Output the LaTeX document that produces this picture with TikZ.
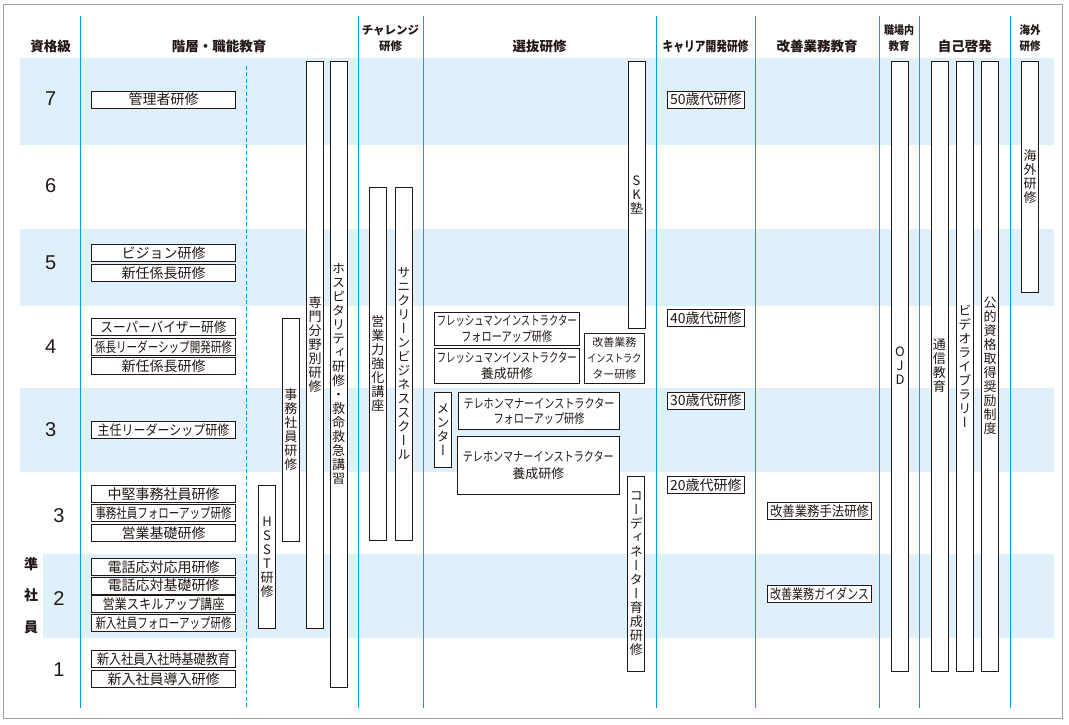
\documentclass[tikz,border=0pt]{standalone}
\usepackage{fontspec}
\usepackage{graphicx}
\setmainfont{Noto Sans CJK JP}
\newfontfamily\tatefont[RawFeature=+vert]{Noto Sans CJK JP}
\newfontfamily\numfont{Liberation Sans}
\newcommand{\hsq}[2]{\resizebox{#1pt}{\height}{#2}}
\definecolor{ink}{RGB}{35,24,21}
\definecolor{rule}{RGB}{0,160,233}
\definecolor{band}{RGB}{222,240,250}
\definecolor{frame}{RGB}{159,160,160}

\begin{document}
\begin{tikzpicture}[x=1pt,y=-1pt,
    every node/.style={text=ink},
    box/.style={draw=ink,fill=white,line width=0.8pt,inner sep=0pt,align=center,
                font=\fontsize{13}{15.5}\selectfont},
    lbox/.style={box,minimum width=144pt,minimum height=17pt,font=\fontsize{14}{15}\selectfont},
    abox/.style={box,minimum width=77pt,minimum height=17pt,font=\fontsize{14}{15}\selectfont},
    kbox/.style={box,minimum width=104pt,minimum height=17pt,font=\fontsize{14}{15}\selectfont},
    vbox/.style={box,minimum width=17pt,font=\tatefont\fontsize{13}{14}\selectfont},
    head/.style={font=\bfseries\fontsize{13.5}{16}\selectfont,align=center},
    shead/.style={font=\bfseries\fontsize{11.5}{16.2}\selectfont,align=center},
    grade/.style={font=\numfont\fontsize{20}{20}\selectfont}]

  \useasboundingbox (0,0) rectangle (1069,725);
  \fill[white] (0,0) rectangle (1069,725);
  \draw[frame,line width=1.2pt] (3.4,4.5) rectangle (1062.3,718.3);

  % grade bands
  \fill[band] (20,57.9) rectangle (1054,144.6);
  \fill[band] (20,229) rectangle (1054,305.8);
  \fill[band] (20,388.2) rectangle (1054,471.7);
  \fill[band] (43.3,554.2) rectangle (1054,637.7);

  \foreach \x in {80.2,358.2,423.2,656.4,755.4,879.3,919.4,1010.2}
    \draw[rule,line width=1.1pt] (\x,16.5) -- (\x,707.7);
  \draw[rule,line width=1pt,dash pattern=on 4pt off 2.5pt] (246.5,66) -- (246.5,707.7);

  % headers
  \node[head]  (H1) at (50.6,46)   {資格級};
  \node[head]  (H2) at (219,46)    {階層・職能教育};
  \node[shead] (H3) at (390.5,38.4) {チャレンジ\\研修};
  \node[head]  (H4) at (539.5,46)  {選抜研修};
  \node[head]  (H5) at (705.5,46)  {\hsq{86}{キャリア開発研修}};
  \node[head]  (H6) at (817,46)    {改善業務教育};
  \node[shead] (H7) at (899,38.4)  {\hsq{30}{職場内}\\\hsq{21}{教育}};
  \node[head]  (H8) at (964.8,46)  {自己啓発};
  \node[shead] (H9) at (1030,38.4) {\hsq{21}{海外}\\\hsq{21}{研修}};

  % grades
  \node[grade] (G7) at (50.6,98.8) {7};
  \node[grade] (G6) at (50.6,186)  {6};
  \node[grade] (G5) at (50.6,262.7) {5};
  \node[grade] (G4) at (50.6,346.7) {4};
  \node[grade] (G3) at (50.6,430)  {3};
  \node[grade] (J3) at (59,515.7)  {3};
  \node[grade] (J2) at (59,598.3)  {2};
  \node[grade] (J1) at (59,670)    {1};
  \node[font=\bfseries\fontsize{14}{31.5}\selectfont,align=center] (JSI) at (31,595.5) {準\\社\\員};

  % layer / function
  \node[lbox] (KNR)  at (163.5,99.5)  {管理者研修};
  \node[lbox] (VIS)  at (163.5,253.3) {ビジョン研修};
  \node[lbox] (SNK5) at (163.5,272.8) {新任係長研修};
  \node[lbox] (SPV)  at (163.5,327)   {\hsq{126}{スーパーバイザー研修}};
  \node[lbox] (KLD)  at (163.5,346.7) {\hsq{137}{係長リーダーシップ開発研修}};
  \node[lbox] (SNK4) at (163.5,365.8) {新任係長研修};
  \node[lbox] (SLD)  at (163.5,430)   {\hsq{132}{主任リーダーシップ研修}};
  \node[lbox] (CJM)  at (163.5,493.8) {中堅事務社員研修};
  \node[lbox] (JFU)  at (163.5,513.3) {\hsq{136}{事務社員フォローアップ研修}};
  \node[lbox] (EKS)  at (163.5,533.3) {営業基礎研修};
  \node[lbox] (DOY)  at (163.5,567.2) {電話応対応用研修};
  \node[lbox] (DKS)  at (163.5,585.5) {電話応対基礎研修};
  \node[lbox] (ESU)  at (163.5,604.3) {\hsq{122}{営業スキルアップ講座}};
  \node[lbox] (NFU)  at (163.5,623)   {\hsq{136}{新入社員フォローアップ研修}};
  \node[lbox] (NKS)  at (163.5,658.8) {\hsq{133}{新入社員入社時基礎教育}};
  \node[lbox] (NDY)  at (163.5,679.2) {新入社員導入研修};

  \node[vbox,minimum height=222.7pt] (JMK) at (290.8,429.7) {事\\務\\社\\員\\研\\修};
  \node[vbox,minimum height=143pt]   (HST) at (267,556.8)   {H\\S\\S\\T\\研\\修};
  \node[vbox,minimum height=567pt]   (SMB) at (315,344.8)   {専\\門\\分\\野\\別\\研\\修};
  \node[vbox,minimum height=626pt]   (HSP) at (338.5,374.3) {ホ\\ス\\ピ\\タ\\リ\\テ\\ィ\\研\\修\\・\\救\\命\\救\\急\\講\\習};

  % challenge
  \node[vbox,minimum height=353pt] (EKK) at (377.9,363.8) {営\\業\\力\\強\\化\\講\\座};
  \node[vbox,minimum height=353pt] (SBS) at (403.8,363.8) {サ\\ニ\\ク\\リ\\ー\\ン\\ビ\\ジ\\ネ\\ス\\ス\\ク\\ー\\ル};

  % selection
  \node[box,minimum width=145pt,minimum height=32.6pt] (FIF) at (506.8,329)
    {\hsq{140}{フレッシュマンインストラクター}\\\hsq{91}{フォローアップ研修}};
  \node[box,minimum width=145pt,minimum height=34.6pt] (FIY) at (506.8,366)
    {\hsq{140}{フレッシュマンインストラクター}\\養成研修};
  \node[box,minimum width=60pt,minimum height=50pt,font=\fontsize{11}{15.7}\selectfont] (KZI) at (614.3,358.3)
    {改善業務\\\hsq{54}{インストラク}\\ター研修};
  \node[vbox,minimum height=74.6pt] (MNT) at (443,430) {メ\\ン\\タ\\ー};
  \node[box,minimum width=160.6pt,minimum height=36.6pt,font=\fontsize{13}{15}\selectfont] (TMF) at (539,411)
    {\hsq{151}{テレホンマナーインストラクター}\\\hsq{91}{フォローアップ研修}};
  \node[box,minimum width=162pt,minimum height=58.3pt,font=\fontsize{13}{16.7}\selectfont] (TMY) at (538.3,465.2)
    {\hsq{151}{テレホンマナーインストラクター}\\養成研修};
  \node[vbox,minimum height=266.8pt] (SKJ) at (636.5,194.6) {S\\K\\塾};
  \node[vbox,minimum height=195pt]   (CDN) at (636.3,573.5) {コ\\ー\\デ\\ィ\\ネ\\ー\\タ\\ー\\育\\成\\研\\修};

  % career
  \node[abox] (A50) at (705.9,99.5)  {50歳代研修};
  \node[abox] (A40) at (705.9,318.3) {40歳代研修};
  \node[abox] (A30) at (705.9,400.5) {30歳代研修};
  \node[abox] (A20) at (705.9,485)   {20歳代研修};

  % kaizen
  \node[kbox] (KSH) at (819.5,510.8) {\hsq{99}{改善業務手法研修}};
  \node[kbox] (KGD) at (819.5,593.8) {\hsq{99}{改善業務ガイダンス}};

  % OJT, self development, overseas
  \node[vbox,minimum height=609.8pt] (OJD) at (900,366.1)   {O\\J\\D};
  \node[vbox,minimum height=609.8pt] (TSK) at (939.4,366.1) {通\\信\\教\\育};
  \node[vbox,minimum height=609.8pt] (VLB) at (964.8,366.1) {ビ\\デ\\オ\\ラ\\イ\\ブ\\ラ\\リ\\ー};
  \node[vbox,minimum height=609.8pt] (SSK) at (990.2,366.1) {公\\的\\資\\格\\取\\得\\奨\\励\\制\\度};
  \node[vbox,minimum height=231pt]   (KGI) at (1030,176.7)  {海\\外\\研\\修};
\end{tikzpicture}
\end{document}
